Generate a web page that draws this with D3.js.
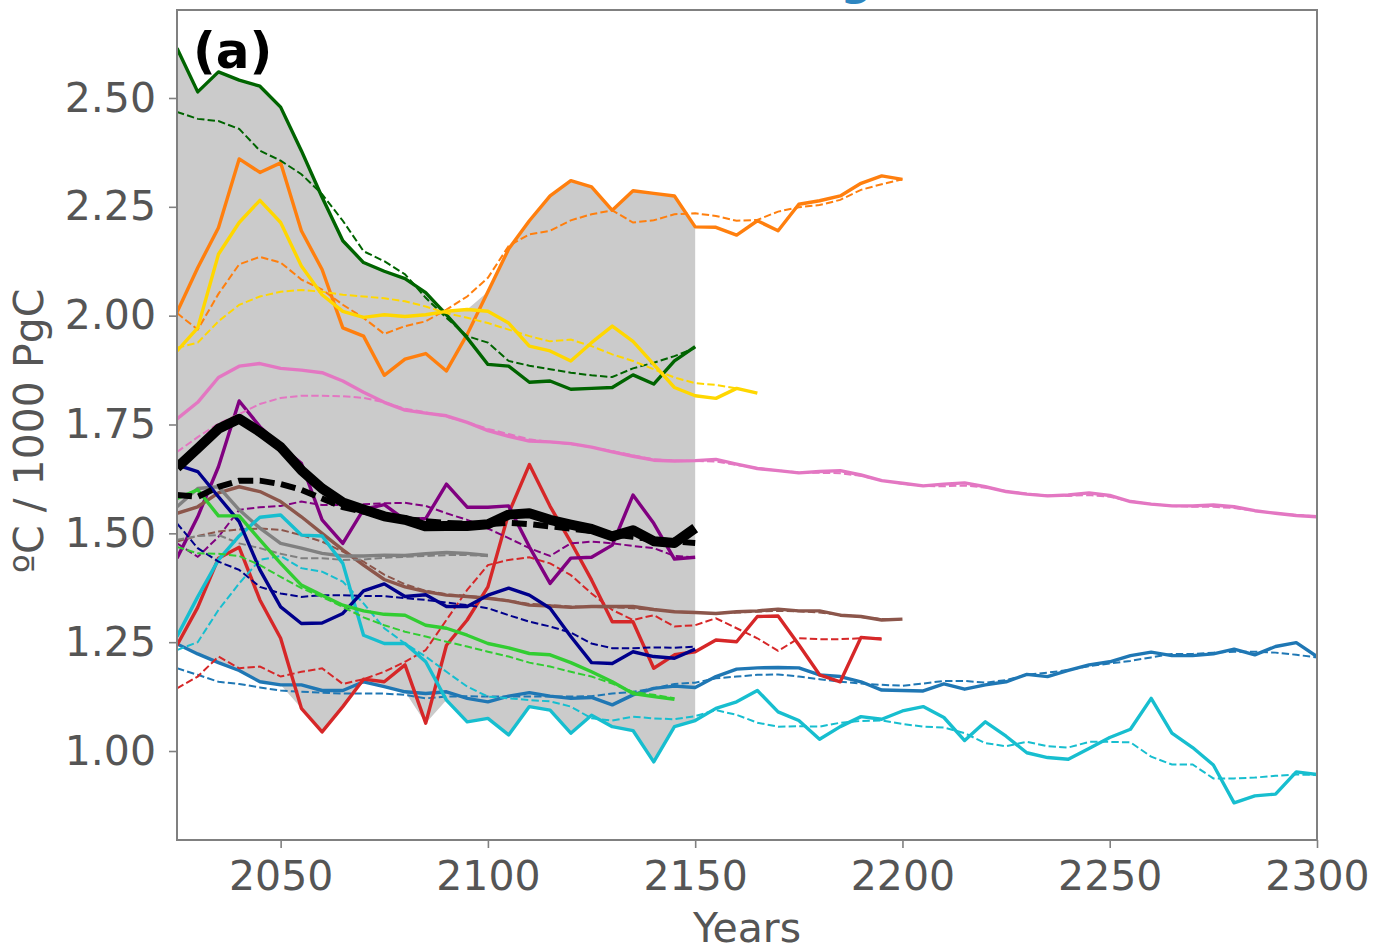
<!DOCTYPE html>
<html>
<head>
<meta charset="utf-8">
<script src="https://cdn.jsdelivr.net/npm/d3@7"></script>
<style>
  html, body { margin: 0; padding: 0; background: #fff; }
  svg { display: block; font-family: "DejaVu Sans", sans-serif; }
</style>
</head>
<body>
<svg id="chart" width="1376" height="948"></svg>
<script>
// ---------------- data (5-year steps from 2025) ----------------
const years = [2025,2030,2035,2040,2045,2050,2055,2060,2065,2070,2075,2080,2085,2090,2095,2100,
  2105,2110,2115,2120,2125,2130,2135,2140,2145,2150,2155,2160,2165,2170,2175,2180,2185,2190,2195,2200,
  2205,2210,2215,2220,2225,2230,2235,2240,2245,2250,2255,2260,2265,2270,2275,2280,2285,2290,2295,2300];

const xTicks = [2050, 2100, 2150, 2200, 2250, 2300];
const yTicks = [1.00, 1.25, 1.50, 1.75, 2.00, 2.25, 2.50];

const blueSolid = [1.246,1.223,1.203,1.185,1.159,1.152,1.152,1.139,1.139,1.159,1.148,1.136,1.132,1.136,1.121,1.113,
  1.126,1.134,1.126,1.121,1.123,1.106,1.129,1.144,1.149,1.146,1.171,1.188,1.191,1.192,1.191,1.175,1.171,1.159,1.140,1.139,
  1.138,1.154,1.142,1.152,1.159,1.176,1.171,1.185,1.198,1.205,1.219,1.227,1.219,1.219,1.223,1.234,1.221,1.240,1.249,1.217];
const blueDashed = [1.190,1.175,1.159,1.154,1.146,1.139,1.136,1.134,1.132,1.132,1.132,1.129,1.121,1.125,1.126,1.125,
  1.125,1.125,1.125,1.125,1.126,1.132,1.136,1.144,1.154,1.157,1.167,1.171,1.175,1.176,1.171,1.165,1.159,1.155,1.152,1.150,
  1.155,1.161,1.161,1.157,1.163,1.175,1.180,1.186,1.195,1.201,1.207,1.215,1.223,1.223,1.226,1.228,1.228,1.226,1.221,1.215];

const orangeSolid = [2.008,2.110,2.202,2.360,2.329,2.351,2.195,2.106,1.972,1.953,1.863,1.900,1.913,1.873,1.957,2.055,
  2.153,2.218,2.275,2.310,2.296,2.242,2.287,2.281,2.275,2.204,2.203,2.185,2.218,2.195,2.256,2.264,2.275,2.304,2.321,2.313];
const orangeDashed = [2.006,1.968,2.050,2.118,2.135,2.122,2.083,2.060,2.025,1.995,1.958,1.976,1.987,2.014,2.044,2.087,
  2.160,2.187,2.195,2.219,2.233,2.242,2.214,2.219,2.233,2.235,2.229,2.218,2.220,2.239,2.249,2.254,2.266,2.289,2.302,2.313];

const darkGreenSolid = [2.614,2.514,2.560,2.541,2.527,2.479,2.379,2.272,2.172,2.122,2.102,2.085,2.053,2.002,1.949,1.888,
  1.884,1.847,1.850,1.831,1.833,1.835,1.864,1.843,1.896,1.929];
const darkGreenDashed = [2.468,2.452,2.447,2.429,2.379,2.356,2.325,2.279,2.218,2.148,2.125,2.095,2.041,1.995,1.953,1.938,
  1.896,1.885,1.877,1.869,1.863,1.859,1.879,1.892,1.907,1.926];

const redSolid = [1.243,1.330,1.443,1.468,1.347,1.259,1.098,1.044,1.102,1.165,1.159,1.198,1.064,1.243,1.301,1.377,
  1.546,1.658,1.562,1.480,1.393,1.297,1.297,1.190,1.221,1.228,1.255,1.251,1.309,1.310,1.244,1.175,1.159,1.261,1.257];
const redDashed = [1.144,1.171,1.217,1.190,1.194,1.171,1.182,1.190,1.154,1.165,1.182,1.205,1.232,1.301,1.370,1.427,
  1.439,1.445,1.431,1.404,1.362,1.324,1.301,1.312,1.286,1.289,1.305,1.282,1.259,1.230,1.259,1.257,1.257,1.259,1.259];

const purpleSolid = [1.443,1.538,1.653,1.804,1.745,1.700,1.661,1.531,1.477,1.555,1.566,1.531,1.534,1.613,1.560,1.560,
  1.563,1.469,1.385,1.443,1.445,1.473,1.588,1.523,1.441,1.445];
const purpleDashed = [1.477,1.446,1.492,1.554,1.560,1.563,1.573,1.565,1.565,1.567,1.569,1.570,1.563,1.546,1.531,1.511,
  1.489,1.466,1.448,1.477,1.481,1.477,1.471,1.466,1.448,1.445];

const brownSolid = [1.546,1.561,1.593,1.607,1.596,1.573,1.538,1.500,1.462,1.427,1.394,1.377,1.366,1.358,1.355,1.351,
  1.345,1.335,1.333,1.330,1.332,1.332,1.332,1.325,1.320,1.318,1.316,1.320,1.322,1.326,1.322,1.322,1.312,1.309,1.301,1.303];
const brownDashed = [1.481,1.494,1.504,1.509,1.511,1.508,1.496,1.481,1.458,1.435,1.405,1.383,1.368,1.360,1.356,1.352,
  1.346,1.338,1.335,1.332,1.331,1.330,1.328,1.324,1.320,1.317,1.317,1.318,1.320,1.322,1.321,1.318,1.313,1.308,1.303,1.302];

const pinkSolid = [1.763,1.801,1.858,1.884,1.890,1.879,1.875,1.869,1.850,1.824,1.801,1.783,1.776,1.770,1.755,1.736,
  1.723,1.712,1.710,1.706,1.698,1.687,1.677,1.668,1.666,1.667,1.670,1.659,1.649,1.644,1.639,1.642,1.644,1.634,1.621,1.615,
  1.609,1.613,1.616,1.607,1.596,1.590,1.586,1.588,1.593,1.587,1.573,1.567,1.563,1.563,1.565,1.561,1.552,1.546,1.541,1.538];
const pinkDashed = [1.687,1.721,1.752,1.774,1.797,1.811,1.816,1.816,1.815,1.811,1.801,1.786,1.778,1.768,1.755,1.740,
  1.728,1.716,1.710,1.705,1.698,1.689,1.679,1.670,1.667,1.666,1.665,1.657,1.650,1.644,1.640,1.639,1.638,1.632,1.622,1.614,
  1.609,1.608,1.610,1.605,1.597,1.591,1.587,1.586,1.588,1.584,1.574,1.567,1.563,1.561,1.561,1.558,1.552,1.546,1.542,1.539];

const graySolid = [1.561,1.603,1.607,1.554,1.512,1.477,1.466,1.454,1.448,1.448,1.450,1.449,1.453,1.456,1.454,1.449];
const grayDashed = [1.485,1.494,1.496,1.477,1.466,1.453,1.443,1.443,1.439,1.440,1.444,1.446,1.448,1.450,1.450,1.448];

const yellowSolid = [1.919,1.972,2.141,2.214,2.265,2.214,2.114,2.048,2.010,1.996,2.002,1.998,2.002,2.010,2.014,2.010,
  1.983,1.930,1.919,1.896,1.938,1.976,1.941,1.888,1.835,1.816,1.810,1.833,1.822];
const yellowDashed = [1.926,1.938,1.987,2.025,2.044,2.055,2.059,2.055,2.048,2.044,2.040,2.033,2.021,2.006,1.995,1.983,
  1.968,1.953,1.941,1.945,1.930,1.911,1.896,1.877,1.858,1.845,1.841,1.833];

const cyanSolid = [1.263,1.354,1.439,1.494,1.537,1.542,1.496,1.494,1.431,1.266,1.247,1.247,1.205,1.117,1.067,1.075,
  1.037,1.102,1.094,1.041,1.082,1.056,1.047,0.975,1.056,1.070,1.098,1.113,1.139,1.090,1.070,1.027,1.056,1.079,1.073,1.092,
  1.102,1.077,1.024,1.067,1.034,0.996,0.985,0.981,1.006,1.031,1.050,1.121,1.041,1.008,0.968,0.881,0.897,0.901,0.952,0.946];
const cyanDashed = [1.232,1.250,1.324,1.385,1.439,1.448,1.420,1.412,1.389,1.339,1.282,1.247,1.217,1.182,1.148,1.125,
  1.121,1.117,1.114,1.102,1.075,1.070,1.079,1.075,1.073,1.080,1.094,1.083,1.065,1.056,1.057,1.056,1.065,1.069,1.070,1.062,
  1.056,1.054,1.041,1.018,1.011,1.021,1.011,1.008,1.021,1.021,1.020,0.987,0.969,0.969,0.937,0.937,0.939,0.943,0.946,0.945];

const navySolid = [1.657,1.642,1.584,1.527,1.416,1.331,1.293,1.294,1.316,1.368,1.384,1.355,1.359,1.332,1.332,1.358,
  1.374,1.358,1.328,1.263,1.203,1.201,1.228,1.217,1.213,1.234];
const navyDashed = [1.523,1.466,1.435,1.416,1.377,1.362,1.354,1.358,1.358,1.356,1.356,1.351,1.347,1.341,1.335,1.328,
  1.312,1.297,1.286,1.272,1.247,1.236,1.236,1.238,1.237,1.240];

const limeSolid = [1.580,1.600,1.540,1.540,1.485,1.431,1.381,1.358,1.335,1.322,1.314,1.312,1.289,1.282,1.266,1.247,
  1.237,1.224,1.221,1.203,1.182,1.159,1.132,1.125,1.119];
const limeDashed = [1.469,1.454,1.453,1.448,1.427,1.400,1.374,1.354,1.331,1.307,1.289,1.274,1.263,1.251,1.240,1.228,
  1.217,1.203,1.194,1.182,1.171,1.155,1.136,1.129,1.121];

const meanSolid = [1.651,1.695,1.740,1.763,1.733,1.698,1.645,1.603,1.571,1.555,1.539,1.531,1.516,1.517,1.517,1.521,
  1.543,1.546,1.531,1.520,1.510,1.493,1.507,1.482,1.478,1.512];
const meanDashed = [1.588,1.584,1.607,1.621,1.621,1.613,1.600,1.580,1.560,1.550,1.540,1.533,1.528,1.524,1.522,1.521,
  1.524,1.521,1.516,1.511,1.505,1.498,1.492,1.486,1.481,1.478];

const envelopeEnd = 2150;

// ---------------- models ----------------
const models = [
  { color: "#1f77b4", solid: blueSolid, dashed: blueDashed },
  { color: "#ff7f0e", solid: orangeSolid, dashed: orangeDashed },
  { color: "#006400", solid: darkGreenSolid, dashed: darkGreenDashed },
  { color: "#d62728", solid: redSolid, dashed: redDashed },
  { color: "#800080", solid: purpleSolid, dashed: purpleDashed },
  { color: "#8c564b", solid: brownSolid, dashed: brownDashed },
  { color: "#e377c2", solid: pinkSolid, dashed: pinkDashed },
  { color: "#808080", solid: graySolid, dashed: grayDashed },
  { color: "#ffd700", solid: yellowSolid, dashed: yellowDashed },
  { color: "#17becf", solid: cyanSolid, dashed: cyanDashed },
  { color: "#00008b", solid: navySolid, dashed: navyDashed },
  { color: "#32cd32", solid: limeSolid, dashed: limeDashed }
];

// ---------------- layout ----------------
const svg = d3.select("#chart");
const L = 177, R = 1317, T = 10, B = 840;
const x = d3.scaleLinear().domain([2025, 2300]).range([L, R]);
const y = d3.scaleLinear().domain([0.7956, 2.7021]).range([B, T]);

const pts = arr => arr.map((v, i) => [years[i], v]);
const line = d3.line().x(d => x(d[0])).y(d => y(d[1]));

svg.append("clipPath").attr("id", "clip")
  .append("rect").attr("x", L).attr("y", T).attr("width", R - L).attr("height", B - T);

const plot = svg.append("g").attr("clip-path", "url(#clip)");

// envelope of the solid model curves up to 2150
const envYears = years.filter(yr => yr <= envelopeEnd);
const env = envYears.map((yr, i) => {
  const vals = models.map(m => m.solid[i]).filter(v => v !== undefined);
  return { yr, lo: d3.min(vals), hi: d3.max(vals) };
});
plot.append("path")
  .datum(env)
  .attr("fill", "#cbcbcb")
  .attr("d", d3.area().x(d => x(d.yr)).y0(d => y(d.lo)).y1(d => y(d.hi)));

// model curves
models.forEach(m => {
  plot.append("path").datum(pts(m.dashed))
    .attr("fill", "none").attr("stroke", m.color).attr("stroke-width", 2)
    .attr("stroke-dasharray", "7.4,3.2").attr("d", line);
  plot.append("path").datum(pts(m.solid))
    .attr("fill", "none").attr("stroke", m.color).attr("stroke-width", 3.4)
    .attr("stroke-linejoin", "round").attr("d", line);
});

// multi-model mean
plot.append("path").datum(pts(meanDashed))
  .attr("fill", "none").attr("stroke", "#000").attr("stroke-width", 6)
  .attr("stroke-dasharray", "15,6.5").attr("d", line);
plot.append("path").datum(pts(meanSolid))
  .attr("fill", "none").attr("stroke", "#000").attr("stroke-width", 10)
  .attr("stroke-linejoin", "round").attr("d", line);

// ---------------- axes ----------------
const tickColor = "#808080", labelColor = "#555555";
const xAxis = svg.append("g").attr("transform", `translate(0,${B})`)
  .call(d3.axisBottom(x).tickValues(xTicks).tickFormat(d3.format("d")).tickSize(8).tickPadding(13));
const yAxis = svg.append("g").attr("transform", `translate(${L},0)`)
  .call(d3.axisLeft(y).tickValues(yTicks).tickFormat(d3.format(".2f")).tickSize(8).tickPadding(13));
[xAxis, yAxis].forEach(ax => {
  ax.select(".domain").remove();
  ax.selectAll(".tick line").attr("stroke", tickColor).attr("stroke-width", 1.6);
  ax.selectAll(".tick text").attr("fill", labelColor)
    .style("font-family", "DejaVu Sans").style("font-size", "41px");
});

// frame
svg.append("rect").attr("x", L).attr("y", T).attr("width", R - L).attr("height", B - T)
  .attr("fill", "none").attr("stroke", tickColor).attr("stroke-width", 2);

// axis labels
svg.append("text").attr("x", (L + R) / 2).attr("y", 942).attr("text-anchor", "middle")
  .attr("fill", labelColor).style("font-size", "41px").text("Years");
svg.append("text").attr("transform", `translate(43,${(T + B) / 2 + 6}) rotate(-90)`)
  .attr("text-anchor", "middle").attr("fill", labelColor).style("font-size", "41px")
  .text("ºC / 1000 PgC");

// panel label
svg.append("text").attr("x", 193).attr("y", 68).attr("fill", "#000")
  .style("font-size", "50px").style("font-weight", "bold").text("(a)");

// title (mostly cut off by the top edge, as in the reference)
svg.append("text").attr("x", 872).attr("y", -5).attr("text-anchor", "end")
  .attr("fill", "#2e86c1").style("font-size", "44px").style("font-weight", "bold")
  .text("Warming");
</script>
</body>
</html>
